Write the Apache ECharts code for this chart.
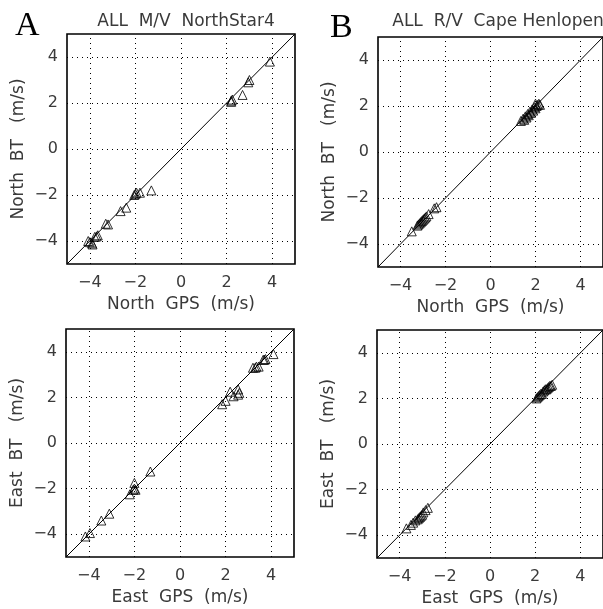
<!DOCTYPE html>
<html><head><meta charset="utf-8">
<script src="https://cdn.jsdelivr.net/npm/echarts@6/dist/echarts.min.js"></script>
<style>html,body{margin:0;padding:0;background:#fff}#c{width:603px;height:609px}</style>
</head><body><div id="c"></div>
<script>
// ---- data (GPS, BT) pairs in m/s ----
const tickValues = [-4, -2, 0, 2, 4];
const axisMin = -5, axisMax = 5;
const oneToOne = [[-5, -5], [5, 5]];

const northStarNorth = [
  [3.9,3.8],[3.0,3.0],[2.95,2.9],[2.7,2.35],[2.2,2.1],[2.25,2.15],[2.2,2.05],
  [-1.3,-1.8],[-1.8,-1.9],[-2.05,-2.0],[-2.0,-1.95],[-1.95,-1.9],[-2.4,-2.55],
  [-2.65,-2.7],[-3.2,-3.28],[-3.3,-3.25],[-3.65,-3.75],[-3.7,-3.8],[-3.78,-3.82],
  [-3.9,-4.1],[-4.0,-4.05],[-4.07,-4.0],[-3.88,-4.15]
];
const northStarEast = [
  [4.1,3.9],[3.65,3.65],[3.7,3.65],[3.75,3.68],[3.35,3.35],[3.3,3.3],[3.45,3.35],
  [3.2,3.3],[2.55,2.35],[2.55,2.12],[2.2,2.25],[2.35,2.05],[2.6,2.2],[2.0,1.85],
  [1.85,1.7],[-1.3,-1.25],[-2.0,-1.75],[-2.0,-2.0],[-1.95,-2.05],[-2.05,-2.05],
  [-2.2,-2.25],[-3.1,-3.1],[-3.45,-3.4],[-3.95,-3.95],[-4.15,-4.1]
];
const capeNorth = [
  [1.35,1.35],[1.45,1.45],[1.5,1.4],[1.55,1.55],[1.6,1.5],[1.65,1.65],[1.7,1.6],
  [1.75,1.75],[1.8,1.7],[1.85,1.85],[1.9,1.8],[1.95,1.95],[2.0,1.9],[2.05,2.0],
  [2.1,2.05],[2.15,2.1],[2.2,2.05],[2.0,2.1],
  [-2.4,-2.4],[-2.5,-2.45],[-2.75,-2.7],[-2.85,-2.8],[-2.9,-2.85],[-2.95,-2.9],
  [-3.0,-2.95],[-3.05,-3.0],[-3.1,-3.05],[-3.15,-3.1],[-3.2,-3.15],[-3.25,-3.2],
  [-3.5,-3.45]
];
const capeEast = [
  [2.05,2.0],[2.1,2.05],[2.15,2.1],[2.2,2.15],[2.25,2.2],[2.3,2.2],[2.35,2.3],
  [2.4,2.35],[2.45,2.4],[2.5,2.4],[2.55,2.45],[2.6,2.5],[2.65,2.55],[2.7,2.55],
  [2.75,2.6],
  [-2.75,-2.8],[-2.85,-2.9],[-2.95,-3.0],[-3.0,-3.1],[-3.05,-3.15],[-3.1,-3.2],
  [-3.15,-3.25],[-3.2,-3.3],[-3.3,-3.35],[-3.4,-3.45],[-3.5,-3.55],[-3.7,-3.7]
];

const panelTitles = ['ALL  M/V  NorthStar4', 'ALL  R/V  Cape Henlopen'];
const xNames = ['North  GPS  (m/s)', 'North  GPS  (m/s)', 'East  GPS  (m/s)', 'East  GPS  (m/s)'];
const yNames = ['North  BT   (m/s)', 'North  BT   (m/s)', 'East  BT   (m/s)', 'East  BT   (m/s)'];
const panelData = [northStarNorth, capeNorth, northStarEast, capeEast];

// ---- layout ----
const grids = [
  {left: 67, top: 34, width: 228, height: 230},
  {left: 378, top: 37, width: 230, height: 230},
  {left: 66, top: 329, width: 228, height: 228},
  {left: 377, top: 330, width: 229, height: 228}
];
const FONT = 'DejaVu Sans';
const TXT = '#3a3a3a';
const fmt = v => (Math.round(v) % 2 === 0) ? String(v).replace('-', '\u2212') : '';

const xAxes = [], yAxes = [], series = [];
grids.forEach((g, i) => {
  g.show = true; g.borderColor = '#000'; g.borderWidth = 1.6; g.backgroundColor = '#fff';
  const common = {
    type: 'value', gridIndex: i, min: axisMin, max: axisMax, interval: 1,
    axisLine: {show: false}, axisTick: {show: false}, splitLine: {show: false},
    nameLocation: 'middle',
    nameTextStyle: {fontFamily: FONT, fontSize: 17, color: TXT},
    axisLabel: {formatter: fmt, fontFamily: FONT, fontSize: 16, color: TXT, showMinLabel: false, showMaxLabel: false}
  };
  xAxes.push(Object.assign({}, common, {name: xNames[i], nameGap: 32,
    axisLabel: Object.assign({}, common.axisLabel, {margin: 11})}));
  yAxes.push(Object.assign({}, common, {name: yNames[i], nameGap: 40,
    axisLabel: Object.assign({}, common.axisLabel, {margin: 9})}));

  // dotted grid lines at the labelled ticks
  series.push({
    type: 'line', xAxisIndex: i, yAxisIndex: i, data: [], silent: true,
    markLine: {
      silent: true, symbol: ['none', 'none'], label: {show: false},
      lineStyle: {color: '#000', type: [1, 4], width: 1},
      animation: false,
      data: tickValues.map(v => ({xAxis: v})).concat(tickValues.map(v => ({yAxis: v})))
    }
  });
  // 1:1 line
  series.push({
    type: 'line', xAxisIndex: i, yAxisIndex: i, data: oneToOne, symbol: 'none',
    lineStyle: {color: '#000', width: 1}, silent: true, animation: false
  });
  // observations
  series.push({
    type: 'scatter', xAxisIndex: i, yAxisIndex: i, data: panelData[i],
    symbol: 'triangle', symbolSize: 9,
    itemStyle: {color: 'rgba(0,0,0,0)', borderColor: '#000', borderWidth: 1},
    animation: false
  });
});

const chart = echarts.init(document.getElementById('c'), null, {renderer: 'canvas'});
chart.setOption({
  backgroundColor: '#fff',
  animation: false,
  title: [
    {text: panelTitles[0], left: 181, top: 8, textAlign: 'center',
     textStyle: {fontFamily: FONT, fontSize: 17, fontWeight: 'normal', color: TXT}},
    {text: panelTitles[1], left: 493, top: 8, textAlign: 'center',
     textStyle: {fontFamily: FONT, fontSize: 17, fontWeight: 'normal', color: TXT}},
    {text: 'A', left: 10, top: 4,
     textStyle: {fontFamily: 'Liberation Serif', fontSize: 34, fontWeight: 'normal', color: '#000'}},
    {text: 'B', left: 325, top: 6,
     textStyle: {fontFamily: 'Liberation Serif', fontSize: 34, fontWeight: 'normal', color: '#000'}}
  ],
  grid: grids,
  xAxis: xAxes,
  yAxis: yAxes,
  series: series
});
</script>
</body></html>
